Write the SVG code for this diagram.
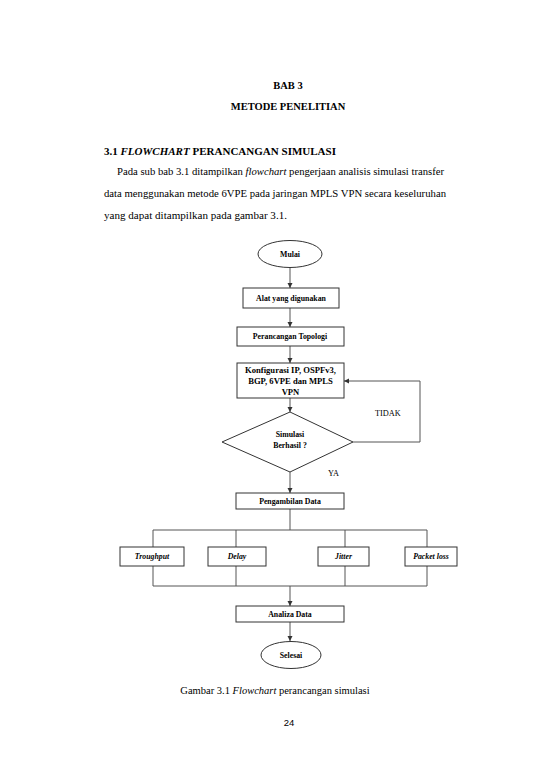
<svg xmlns="http://www.w3.org/2000/svg" width="550" height="777" viewBox="0 0 550 777">
<style>
.t{font-family:"Liberation Serif","Times New Roman",serif;fill:#000}
.b{font-weight:bold}
.i{font-style:italic}
.n{font-size:7.8px;font-weight:bold;text-anchor:middle}
.k{font-size:8.6px}
.box{fill:#fff;stroke:#333;stroke-width:1}
.ln{fill:none;stroke:#555;stroke-width:1}
</style>
<defs>
<marker id="ah" markerWidth="6" markerHeight="6" refX="5" refY="3" orient="auto" markerUnits="userSpaceOnUse">
<path d="M0,0.5 L5,3 L0,5.5 Z" fill="#333"/>
</marker>
</defs>
<rect width="550" height="777" fill="#fff"/>

<g id="page-text">
<text class="t b" x="288" y="89" font-size="10.5" text-anchor="middle">BAB 3</text>
<text class="t b" x="288" y="110" font-size="10.5" text-anchor="middle">METODE PENELITIAN</text>
<text class="t b" x="104" y="155" font-size="10.5" textLength="232" lengthAdjust="spacingAndGlyphs">3.1 <tspan class="i">FLOWCHART</tspan> PERANCANGAN SIMULASI</text>
<text class="t" x="117" y="175" font-size="10.5" textLength="327" lengthAdjust="spacingAndGlyphs">Pada sub bab 3.1 ditampilkan <tspan class="i">flowchart</tspan> pengerjaan analisis simulasi transfer</text>
<text class="t" x="104" y="197" font-size="10.5" textLength="342" lengthAdjust="spacingAndGlyphs">data menggunakan metode 6VPE pada jaringan MPLS VPN secara keseluruhan</text>
<text class="t" x="104" y="219" font-size="10.5" textLength="183" lengthAdjust="spacingAndGlyphs">yang dapat ditampilkan pada gambar 3.1.</text>
<text class="t" x="275" y="694" font-size="10.5" text-anchor="middle">Gambar 3.1 <tspan class="i">Flowchart</tspan> perancangan simulasi</text>
<text x="289" y="726" font-size="9.5" text-anchor="middle" font-family="Liberation Sans, Arial, sans-serif">24</text>
</g>

<g id="connectors">
<line class="ln" x1="290" y1="267.5" x2="290" y2="288" marker-end="url(#ah)"/>
<line class="ln" x1="290" y1="308" x2="290" y2="327" marker-end="url(#ah)"/>
<line class="ln" x1="290" y1="346" x2="290" y2="363" marker-end="url(#ah)"/>
<line class="ln" x1="290" y1="398" x2="290" y2="412" marker-end="url(#ah)"/>
<polyline class="ln" points="353,442 420,442 420,381 344,381" marker-end="url(#ah)"/>
<line class="ln" x1="290" y1="472" x2="290" y2="493" marker-end="url(#ah)"/>
<line class="ln" x1="290" y1="509" x2="290" y2="530"/>
<polyline class="ln" points="153,547 153,530 427,530 427,547"/>
<line class="ln" x1="236" y1="530" x2="236" y2="547"/>
<line class="ln" x1="345" y1="530" x2="345" y2="547"/>
<polyline class="ln" points="153,566 153,586 427,586 427,566"/>
<line class="ln" x1="236" y1="566" x2="236" y2="586"/>
<line class="ln" x1="345" y1="566" x2="345" y2="586"/>
<line class="ln" x1="290" y1="586" x2="290" y2="606" marker-end="url(#ah)"/>
<line class="ln" x1="290" y1="622" x2="290" y2="641" marker-end="url(#ah)"/>
<text class="t" x="375" y="416" font-size="8.3">TIDAK</text>
<text class="t" x="328" y="476" font-size="8.3">YA</text>
</g>

<g id="mulai">
<ellipse class="box" cx="290" cy="254" rx="32" ry="13.5"/>
<text class="t n" x="290" y="256.5">Mulai</text>
</g>
<g id="alat">
<rect class="box" x="243" y="288" width="96" height="20"/>
<text class="t n" x="291" y="300.5">Alat yang digunakan</text>
</g>
<g id="perancangan">
<rect class="box" x="237" y="327" width="107" height="19"/>
<text class="t n" x="290" y="339">Perancangan Topologi</text>
</g>
<g id="konfigurasi">
<rect class="box" x="237" y="363" width="107" height="35"/>
<text class="t n k" x="290.5" y="372.5">Konfigurasi IP, OSPFv3,</text>
<text class="t n k" x="290.5" y="383.5">BGP, 6VPE dan MPLS</text>
<text class="t n k" x="290.5" y="394.5">VPN</text>
</g>
<g id="simulasi">
<polygon class="box" points="290,412 353,442 290,472 222,442"/>
<text class="t n" x="290" y="437">Simulasi</text>
<text class="t n" x="290" y="448">Berhasil ?</text>
</g>
<g id="pengambilan">
<rect class="box" x="236" y="493" width="108" height="16"/>
<text class="t n" x="290" y="503.8">Pengambilan Data</text>
</g>
<g id="troughput">
<rect class="box" x="120" y="547" width="64" height="19"/>
<text class="t n i" x="152" y="559.3">Troughput</text>
</g>
<g id="delay">
<rect class="box" x="208" y="547" width="58" height="19"/>
<text class="t n i" x="237" y="559.3">Delay</text>
</g>
<g id="jitter">
<rect class="box" x="318" y="547" width="51" height="19"/>
<text class="t n i" x="343.5" y="559.3">Jitter</text>
</g>
<g id="packetloss">
<rect class="box" x="405" y="547" width="52" height="19"/>
<text class="t n i" x="431" y="559.3">Packet loss</text>
</g>
<g id="analiza">
<rect class="box" x="236" y="606" width="108" height="16"/>
<text class="t n" x="290" y="616.8">Analiza Data</text>
</g>
<g id="selesai">
<ellipse class="box" cx="291" cy="655" rx="30" ry="13.5"/>
<text class="t n" x="291" y="657.8">Selesai</text>
</g>
</svg>
